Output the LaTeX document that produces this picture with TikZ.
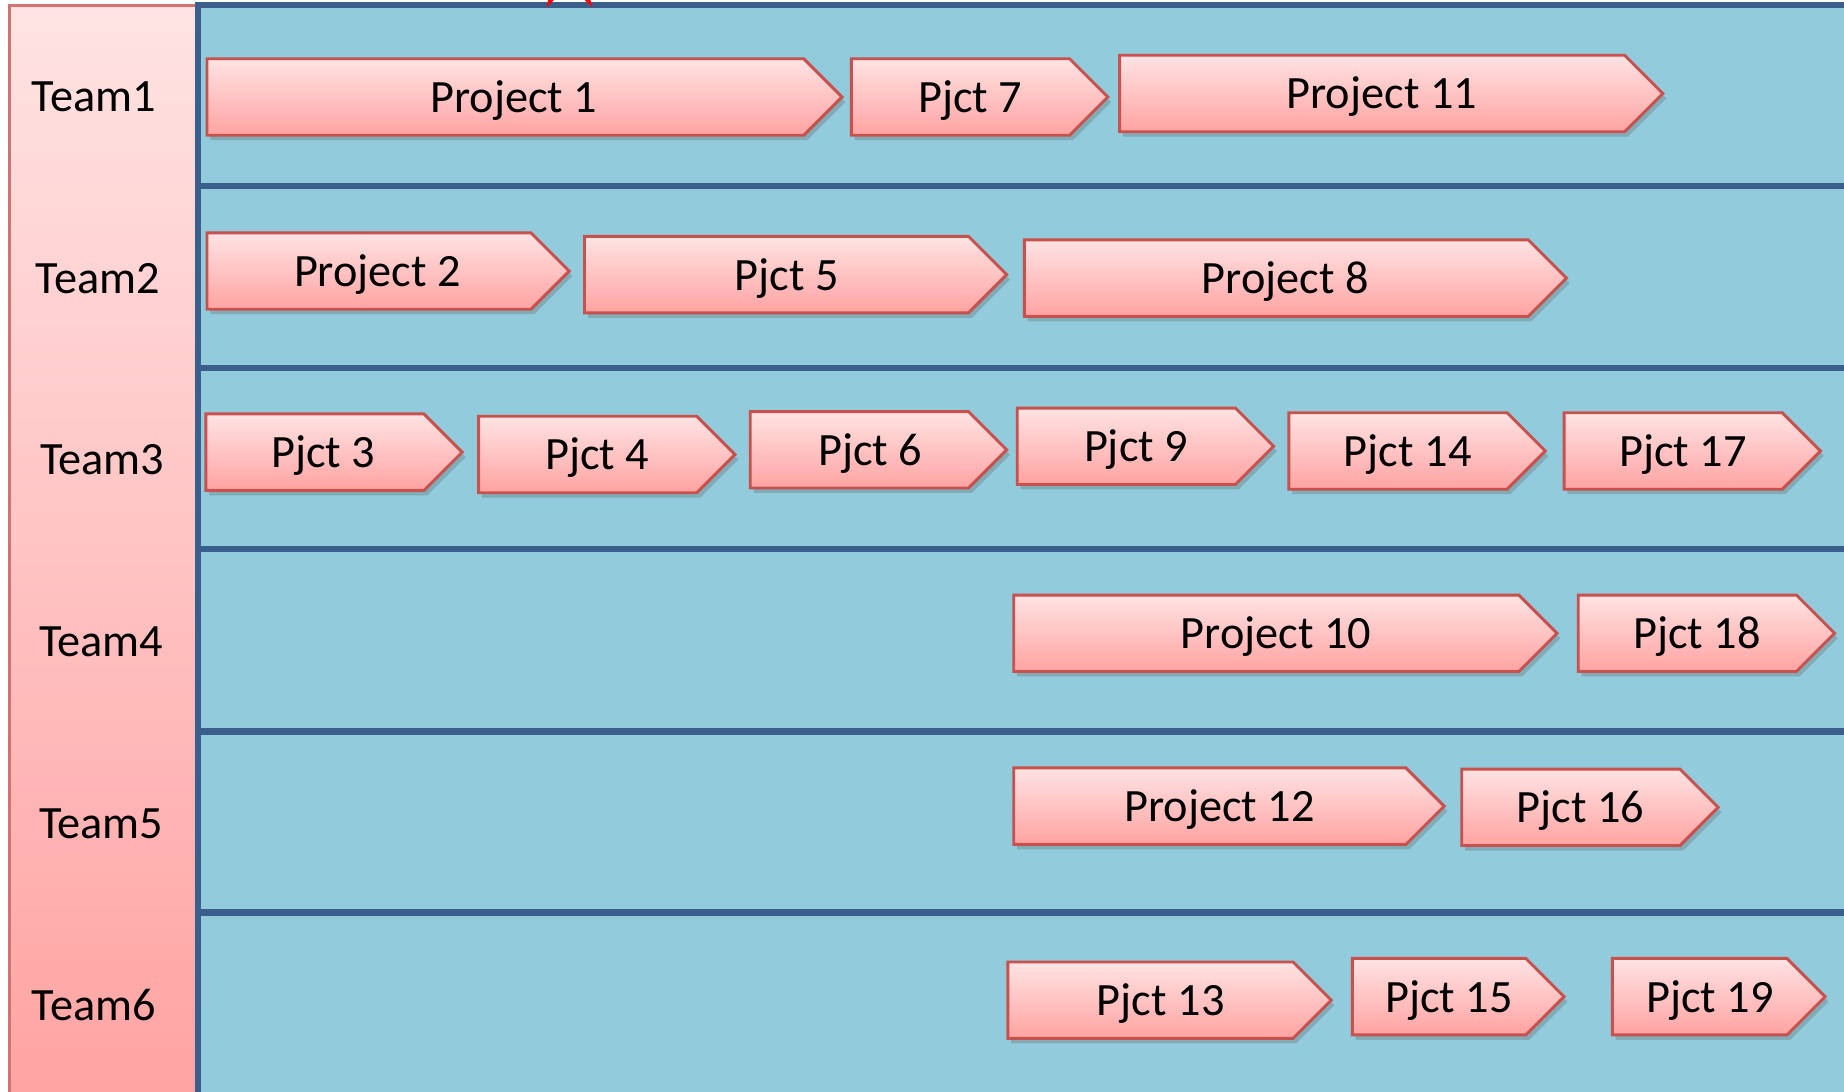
\documentclass[tikz,border=0pt]{standalone}
\usepackage{fontspec}
\setmainfont{Carlito}
\usetikzlibrary{shadows}
\definecolor{laneBlue}{HTML}{92CBDC}
\definecolor{laneLine}{HTML}{3A5F8D}
\definecolor{pinkTop}{HTML}{FFE3E3}
\definecolor{pinkBot}{HTML}{FFA3A2}
\definecolor{pinkEdge}{HTML}{C8504D}

\begin{document}
\begin{tikzpicture}
[x=0.01cm,y=-0.01cm,
  pjctDecorate/.style={draw=pinkEdge,line width=0.7pt,line join=miter,top color=pinkTop,bottom color=pinkBot,
    drop shadow={shadow xshift=0.8pt,shadow yshift=-1.2pt,opacity=.25,fill=black!70}},%
  labelDecorate/.style={inner sep=0pt,text height=7.2pt,text depth=0pt,font=\fontsize{11.2}{13}\selectfont},%
  laneDecorate/.style={draw=laneLine,line width=1.5pt}]
\useasboundingbox (0,0) rectangle (1568,928);
\clip (0,0) rectangle (1568,928);
%% team column and lanes
\shade[top color=pinkTop,bottom color=pinkBot] (8,4.5) rectangle (168,940);
\draw[pinkEdge!80,line width=0.6pt] (8,940) -- (8,4.5) -- (168,4.5);
\fill[laneBlue] (168.5,4.5) rectangle (1570,940);
\draw[laneDecorate] (1570,4.5) -- (168.5,4.5) -- (168.5,940);
\foreach \y in {158,313,467,622,776} {
  \draw[laneDecorate] (168.5,\y) -- (1570,\y);
}
%% mark at the top edge
\fill[red] (466,0) -- (471,0) -- (465,6.5) -- cycle;
\fill[red] (497,0) -- (502,0) -- (504,6.5) -- cycle;
%% teams
\foreach \i/\x/\y in {1/80/82, 2/83/237, 3/87/391, 4/86/546, 5/86/700, 6/80/855} {
  \node (team\i) at (\x,\y) [labelDecorate] {Team\i};
}
%% projects
\foreach \n/\xa/\xb/\yt/\tx/\lab in {1/176/716/50/437/Project 1, 7/724/942/50/825/Pjct 7,
    11/952/1414/47/1175/Project 11, 2/176/484/198/321/Project 2, 5/497/856/201/669/Pjct 5,
    8/871/1332/204/1093/Project 8, 3/175/393/352/275/Pjct 3, 4/407/625/354/508/Pjct 4,
    6/638/856/350/740/Pjct 6, 9/865/1083/347/966/Pjct 9, 14/1096/1314/351/1197/Pjct 14,
    17/1330/1548/351/1431/Pjct 17, 10/862/1324/506/1085/Project 10, 18/1342/1560/506/1443/Pjct 18,
    12/862/1228/653/1037/Project 12, 16/1243/1461/654/1344/Pjct 16, 13/857/1132/818/987/Pjct 13,
    15/1150/1330/815/1232/Pjct 15, 19/1371/1552/815/1454/Pjct 19} {
  \path[pjctDecorate] (\xa,\yt) -- ({\xb-32.5},\yt) -- (\xb,{\yt+32.5})
    -- ({\xb-32.5},{\yt+65}) -- (\xa,{\yt+65}) -- cycle;
  \node (pjct\n) at (\tx,{\yt+33}) [labelDecorate] {\lab};
}
\end{tikzpicture}
\end{document}
